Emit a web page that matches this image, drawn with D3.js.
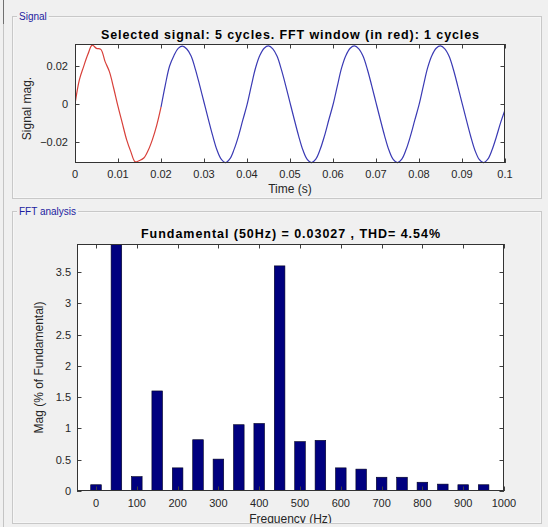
<!DOCTYPE html>
<html>
<head>
<meta charset="utf-8">
<script src="https://cdn.jsdelivr.net/npm/d3@7"></script>
<style>
  html, body { margin: 0; padding: 0; background: #f0f0f0; }
  svg { display: block; font-family: "Liberation Sans", Arial, sans-serif; }
</style>
</head>
<body>
<svg id="chart" width="548" height="527"></svg>
<script>
// ---------- DATA ----------
const sampleStep = 0.001; // s
// FFT window (first cycle, red), t = 0 .. 0.02 s
const redSignal = [0, 0.0126, 0.0196, 0.0260, 0.0308, 0.0291, 0.0286, 0.0222, 0.0170, 0.0083,
  -0.0012, -0.0099, -0.0185, -0.0249, -0.0301, -0.0294, -0.0281, -0.0242, -0.0185, -0.0111, -0.0016];
// remaining cycles (blue), t = 0.02 .. 0.10 s
const blueSignal = [-0.0016, 0.0100, 0.0199, 0.0253, 0.0291, 0.0303, 0.0288, 0.0252, 0.0182, 0.0098,
  0.0010, -0.0078, -0.0163, -0.0238, -0.0287, -0.0305, -0.0286, -0.0236, -0.0168, -0.0085,
  -0.0004, 0.0095, 0.0190, 0.0255, 0.0292, 0.0304, 0.0289, 0.0250, 0.0180, 0.0097,
  0.0008, -0.0080, -0.0165, -0.0239, -0.0288, -0.0305, -0.0287, -0.0237, -0.0167, -0.0084,
  -0.0003, 0.0094, 0.0189, 0.0254, 0.0292, 0.0304, 0.0289, 0.0250, 0.0181, 0.0097,
  0.0008, -0.0080, -0.0165, -0.0239, -0.0288, -0.0305, -0.0287, -0.0237, -0.0167, -0.0085,
  -0.0004, 0.0094, 0.0189, 0.0254, 0.0292, 0.0304, 0.0289, 0.0250, 0.0181, 0.0096,
  0.0007, -0.0081, -0.0166, -0.0240, -0.0288, -0.0305, -0.0287, -0.0238, -0.0170, -0.0095, -0.0030];
const timeTicks = [0, 0.01, 0.02, 0.03, 0.04, 0.05, 0.06, 0.07, 0.08, 0.09, 0.1];
const signalTicks = [-0.02, 0, 0.02];

const harmonicFreqs = [0, 50, 100, 150, 200, 250, 300, 350, 400, 450, 500, 550, 600, 650, 700, 750, 800, 850, 900, 950];
const harmonicMags  = [0.10, 100, 0.23, 1.60, 0.37, 0.82, 0.51, 1.06, 1.08, 3.60, 0.79, 0.81, 0.37, 0.35, 0.22, 0.22, 0.14, 0.11, 0.10, 0.10];
const freqTicks = [0, 100, 200, 300, 400, 500, 600, 700, 800, 900, 1000];
const magTicks = [0, 0.5, 1, 1.5, 2, 2.5, 3, 3.5];

const signalTitle = "Selected signal: 5 cycles. FFT window (in red): 1 cycles";
const fftTitle = "Fundamental (50Hz) = 0.03027 , THD= 4.54%";

// ---------- DRAW ----------
const svg = d3.select("#chart");
const textCol = "#262626";

// page chrome
svg.append("rect").attr("x", 0).attr("y", 0).attr("width", 548).attr("height", 527).attr("fill", "#f0f0f0");
svg.append("line").attr("x1", 3.5).attr("x2", 3.5).attr("y1", 0).attr("y2", 527).attr("stroke", "#c4c4c4");
svg.append("line").attr("x1", 3.5).attr("x2", 3.5).attr("y1", 0).attr("y2", 24).attr("stroke", "#707070");

function groupBox(x, y, w, h, label, id) {
  svg.append("rect").attr("x", x + 0.5).attr("y", y + 0.5).attr("width", w).attr("height", h)
    .attr("fill", "none").attr("stroke", "#c8c8c8");
  svg.append("rect").attr("x", x + 1.5).attr("y", y + 1.5).attr("width", w - 2).attr("height", h - 2)
    .attr("fill", "none").attr("stroke", "#fafafa").attr("stroke-opacity", 0.6);
  const t = svg.append("text").attr("x", x + 7).attr("y", y + 3.5).attr("font-size", 10)
    .attr("fill", "#1c1ca0").text(label);
  const bb = t.node().getBBox();
  svg.insert("rect", "text:last-of-type").attr("x", bb.x - 2).attr("y", y - 2).attr("width", bb.width + 4).attr("height", 5)
    .attr("fill", "#f0f0f0");
  svg.append("clipPath").attr("id", id).append("rect")
    .attr("x", x + 1).attr("y", y + 1).attr("width", w - 1).attr("height", h - 1);
}

groupBox(12, 16, 529, 182, "Signal", "clipSig");
groupBox(12, 211, 529, 312, "FFT analysis", "clipFft");

// ---- Signal axes ----
const s = { l: 75, r: 505, t: 44, b: 163 };
const xS = d3.scaleLinear().domain([0, 0.1]).range([s.l, s.r]);
const yS = d3.scaleLinear().domain([-0.0307, 0.0314]).range([s.b, s.t]);

const gS = svg.append("g").attr("clip-path", "url(#clipSig)");
gS.append("rect").attr("x", s.l).attr("y", s.t).attr("width", s.r - s.l).attr("height", s.b - s.t).attr("fill", "#ffffff");

const tickLen = 4.5;
function boxTicks(g, xs, ys, xt, yt, box) {
  const tg = g.append("g").attr("stroke", "#404040").attr("stroke-width", 1);
  xt.forEach(v => {
    const x = Math.round(xs(v)) + 0.5;
    tg.append("line").attr("x1", x).attr("x2", x).attr("y1", box.b).attr("y2", box.b - tickLen);
    tg.append("line").attr("x1", x).attr("x2", x).attr("y1", box.t).attr("y2", box.t + tickLen);
  });
  yt.forEach(v => {
    const y = Math.round(ys(v)) + 0.5;
    tg.append("line").attr("x1", box.l).attr("x2", box.l + tickLen).attr("y1", y).attr("y2", y);
    tg.append("line").attr("x1", box.r).attr("x2", box.r - tickLen).attr("y1", y).attr("y2", y);
  });
}

const redPts = redSignal.map((v, i) => [i * sampleStep, v]);
const bluePts = blueSignal.map((v, i) => [0.02 + i * sampleStep, v]);
const line = d3.line().x(d => xS(d[0])).y(d => yS(d[1])).curve(d3.curveCatmullRom.alpha(0.5));

svg.append("clipPath").attr("id", "plotS").append("rect")
  .attr("x", s.l).attr("y", s.t - 1).attr("width", s.r - s.l).attr("height", s.b - s.t + 2);

gS.append("path").datum(bluePts).attr("d", line).attr("fill", "none").attr("stroke", "#3a3ab4")
  .attr("stroke-width", 1.2).attr("clip-path", "url(#plotS)");
gS.append("path").datum(redPts).attr("d", line).attr("fill", "none").attr("stroke", "#d8403a")
  .attr("stroke-width", 1.2).attr("clip-path", "url(#plotS)");

boxTicks(gS, xS, yS, timeTicks, signalTicks, s);
gS.append("rect").attr("x", s.l + 0.5).attr("y", s.t + 0.5).attr("width", s.r - s.l - 1).attr("height", s.b - s.t - 1)
  .attr("fill", "none").attr("stroke", "#333333");

gS.append("g").selectAll("text").data(timeTicks).join("text")
  .attr("x", d => xS(d)).attr("y", s.b + 15).attr("text-anchor", "middle")
  .attr("font-size", 11).attr("fill", textCol).text(d => d3.format("~g")(d));
gS.append("g").selectAll("text").data(signalTicks).join("text")
  .attr("x", s.l - 7).attr("y", d => yS(d) + 4).attr("text-anchor", "end")
  .attr("font-size", 11).attr("fill", textCol).text(d => d3.format("~g")(d));

gS.append("text").attr("x", (s.l + s.r) / 2).attr("y", s.t - 5).attr("text-anchor", "middle")
  .attr("font-size", 12.5).attr("font-weight", "bold").attr("fill", "#000")
  .attr("textLength", 378).attr("lengthAdjust", "spacing").text(signalTitle);
gS.append("text").attr("x", (s.l + s.r) / 2).attr("y", 193).attr("text-anchor", "middle")
  .attr("font-size", 12).attr("fill", textCol).text("Time (s)");
gS.append("text").attr("transform", `translate(31, ${(s.t + s.b) / 2 + 5}) rotate(-90)`).attr("text-anchor", "middle")
  .attr("font-size", 12).attr("fill", textCol).text("Signal mag.");

// ---- FFT axes ----
const f = { l: 77, r: 504, t: 244, b: 491 };
const xF = d3.scaleLinear().domain([-46.6, 1000]).range([f.l, f.r]);
const yF = d3.scaleLinear().domain([0, 3.95]).range([f.b, f.t]);

const gF = svg.append("g").attr("clip-path", "url(#clipFft)");
gF.append("rect").attr("x", f.l).attr("y", f.t).attr("width", f.r - f.l).attr("height", f.b - f.t).attr("fill", "#ffffff");

svg.append("clipPath").attr("id", "plotF").append("rect")
  .attr("x", f.l).attr("y", f.t).attr("width", f.r - f.l).attr("height", f.b - f.t);

const barW = xF(26) - xF(0);
gF.append("g").attr("clip-path", "url(#plotF)").selectAll("rect")
  .data(harmonicFreqs.map((fr, i) => ({ fr, m: harmonicMags[i] })))
  .join("rect")
  .attr("x", d => xF(d.fr) - barW / 2)
  .attr("y", d => yF(Math.min(d.m, 5)))
  .attr("width", barW)
  .attr("height", d => yF(0) - yF(Math.min(d.m, 5)))
  .attr("fill", "#00007f").attr("stroke", "#000020").attr("stroke-width", 0.6);

boxTicks(gF, xF, yF, freqTicks, magTicks, f);
gF.append("rect").attr("x", f.l + 0.5).attr("y", f.t + 0.5).attr("width", f.r - f.l - 1).attr("height", f.b - f.t - 1)
  .attr("fill", "none").attr("stroke", "#333333");

gF.append("g").selectAll("text").data(freqTicks).join("text")
  .attr("x", d => xF(d)).attr("y", f.b + 16).attr("text-anchor", "middle")
  .attr("font-size", 11).attr("fill", textCol).text(d => d);
gF.append("g").selectAll("text").data(magTicks).join("text")
  .attr("x", f.l - 6).attr("y", d => yF(d) + 4).attr("text-anchor", "end")
  .attr("font-size", 11).attr("fill", textCol).text(d => d3.format("~g")(d));

gF.append("text").attr("x", (f.l + f.r) / 2).attr("y", f.t - 6).attr("text-anchor", "middle")
  .attr("font-size", 12.5).attr("font-weight", "bold").attr("fill", "#000")
  .attr("textLength", 299).attr("lengthAdjust", "spacing").text(fftTitle);
gF.append("text").attr("x", (f.l + f.r) / 2).attr("y", 523).attr("text-anchor", "middle")
  .attr("font-size", 12).attr("fill", textCol).text("Frequency (Hz)");
gF.append("text").attr("transform", `translate(43, ${(f.t + f.b) / 2}) rotate(-90)`).attr("text-anchor", "middle")
  .attr("font-size", 12).attr("fill", textCol).text("Mag (% of Fundamental)");
</script>
</body>
</html>
